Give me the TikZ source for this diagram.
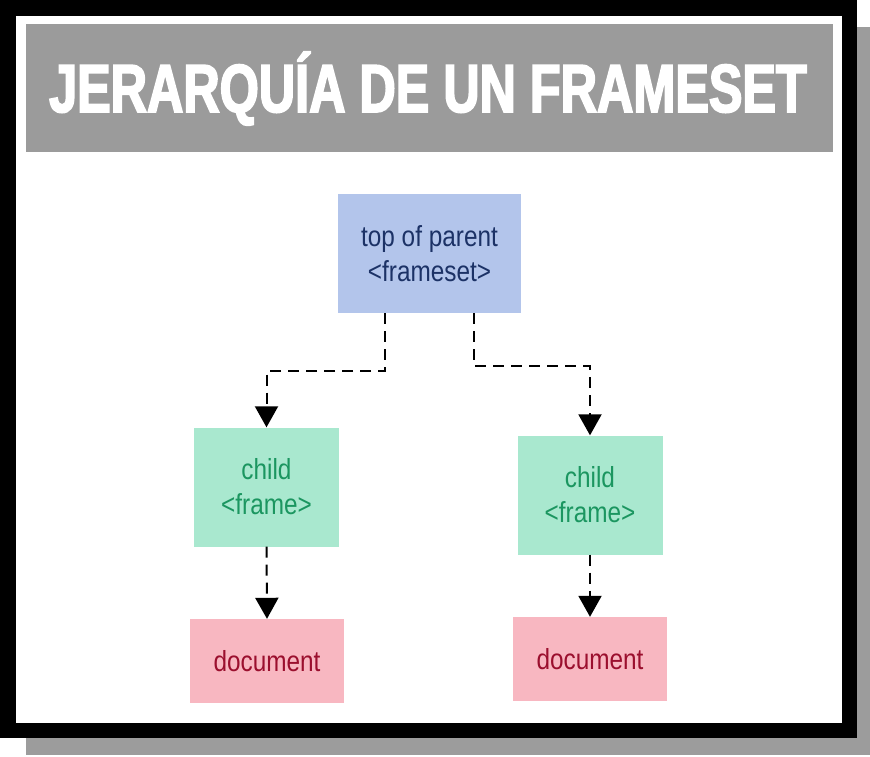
\documentclass[tikz,border=0pt]{standalone}
\usepackage{fontspec}
\setmainfont{Liberation Sans}
\newfontfamily\titlefont[FakeStretch=0.74,FakeBold=2.5]{Liberation Sans Bold}
\newfontfamily\boxfont[FakeStretch=0.84]{Liberation Sans}
\usetikzlibrary{arrows.meta}
\definecolor{shadowgray}{HTML}{9C9C9C}
\definecolor{bargray}{HTML}{9B9B9B}
\definecolor{topfill}{HTML}{B3C5EB}
\definecolor{toptext}{HTML}{1C3266}
\definecolor{childfill}{HTML}{A9E8CF}
\definecolor{childtext}{HTML}{1B9660}
\definecolor{docfill}{HTML}{F8B7C1}
\definecolor{doctext}{HTML}{9B0F2E}
\tikzset{
  box/.style={inner sep=0pt, align=center, font=\boxfont\fontsize{29}{35}\selectfont},
  topbox/.style={box, fill=topfill, text=toptext, minimum width=183pt, minimum height=119pt},
  childbox/.style={box, fill=childfill, text=childtext, minimum width=145pt, minimum height=119pt},
  docbox/.style={box, fill=docfill, text=doctext, minimum width=154pt, minimum height=84pt},
  conn/.style={line width=2pt, dash pattern=on 11pt off 7pt, -{Triangle[width=23pt,length=21pt]}, black}
}
\begin{document}
\begin{tikzpicture}[x=1pt,y=-1pt]
\useasboundingbox (0,0) rectangle (870,756);
\fill[white] (0,0) rectangle (870,756);
\fill[shadowgray] (26,27) rectangle (870,755);
\fill[black] (0,0) rectangle (857,738);
\fill[white] (16,16) rectangle (842,723);
\fill[bargray] (26,24) rectangle (833,152);
\node[anchor=base, inner sep=0pt, text=white, font=\titlefont\fontsize{68}{70}\selectfont] (title) at (428,112) {JERARQUÍA DE UN FRAMESET};

\node[topbox] (top) at (429.5,253.5) {top of parent\\<frameset>};
\node[childbox] (lc) at (266.5,487) {child\\<frame>};
\node[childbox] (rc) at (590,495) {child\\<frame>};
\node[docbox] (ld) at (267,661) {document};
\node[docbox] (rd) at (590,659) {document};

\draw[conn] ([xshift=-44.5pt]top.south) -- ++(0,58) -| (lc.north);
\draw[conn] ([xshift=44.5pt]top.south) -- ++(0,53) -| (rc.north);
\draw[conn] (lc.south) -- (ld.north);
\draw[conn] (rc.south) -- (rd.north);
\end{tikzpicture}
\end{document}
